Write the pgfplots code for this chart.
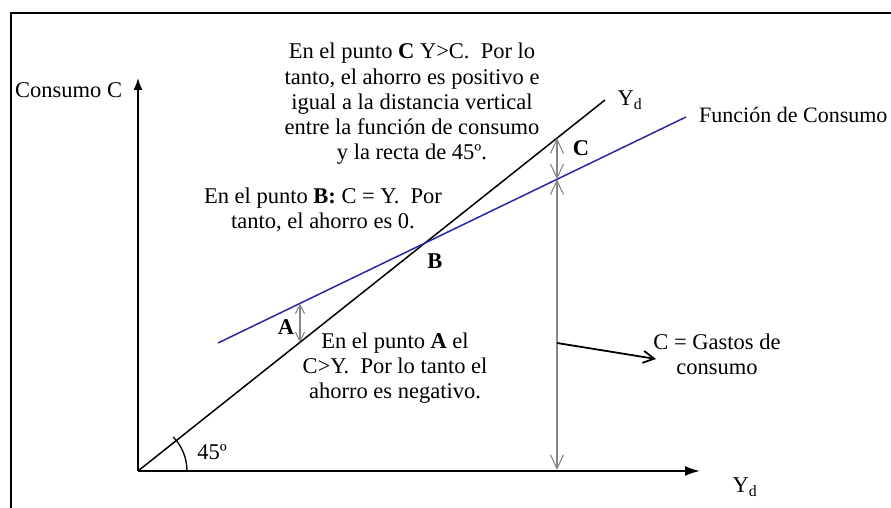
\documentclass[border=0pt]{standalone}
\usepackage{fontspec}
\setmainfont{Liberation Serif}
\usepackage{pgfplots}
\pgfplotsset{compat=1.18}
\usetikzlibrary{arrows.meta}
\definecolor{consblue}{RGB}{40,40,165}
\definecolor{arrgray}{RGB}{135,135,135}

\begin{document}
\begin{tikzpicture}[font=\fontsize{22.5}{25.3}\selectfont, every node/.style={inner sep=0pt}]
\begin{axis}[
    scale only axis,
    width=562pt, height=393pt,
    xmin=0, xmax=562, ymin=0, ymax=393,
    axis lines=left,
    ticks=none,
    x axis line style={line width=1.8pt, -{Latex[length=15pt,width=10pt]}},
    y axis line style={line width=1.8pt, -{Latex[length=12pt,width=9pt]}},
    clip=false,
]
% picture extent
\coordinate (bl) at (axis cs:-138,-37);
\coordinate (tr) at (axis cs:753,471);

% frame (cropped at right and bottom)
\draw[line width=2.5pt] (axis cs:-127,-60) -- (axis cs:-127,458) -- (axis cs:780,458);

% 45 degree line and consumption function
\addplot[black, line width=1.5pt] coordinates {(0,0) (467,371)};
\addplot[consblue, line width=1.5pt] coordinates {(80,128) (548,354)};

% distances
\addplot[arrgray, line width=1.1pt, {Straight Barb[length=14pt,width=13pt]}-{Straight Barb[length=14pt,width=13pt]}]
    coordinates {(419,291.7) (419,332.9)};
\addplot[arrgray, line width=1.1pt, {Straight Barb[length=14pt,width=13pt]}-{Straight Barb[length=14pt,width=13pt]}]
    coordinates {(419,291.7) (419,1)};
\addplot[arrgray, line width=1.1pt, {Straight Barb[length=9pt,width=9pt]}-{Straight Barb[length=9pt,width=9pt]}]
    coordinates {(162,128.7) (162,167.6)};
\addplot[black, line width=1.8pt, -{Straight Barb[length=11pt,width=12pt]}]
    coordinates {(419,128) (518,112)};

% 45 degree arc
\draw[line width=1.3pt] (axis cs:49,0) arc[start angle=0, end angle=44, radius=49pt];

% labels
\node[anchor=west] at (axis cs:-123,381) {Consumo C};
\node[align=center] at (axis cs:274,367) {En el punto \textbf{C} Y>C.\ \ Por lo\\ tanto, el ahorro es positivo e\\ igual a la distancia vertical\\ entre la función de consumo\\ y la recta de 45º.};
\node[align=center] at (axis cs:185,261) {En el punto \textbf{B:} C = Y.\ \ Por\\ tanto, el ahorro es 0.};
\node[align=center] at (axis cs:257,103) {En el punto \textbf{A} el\\ C>Y.\ \ Por lo tanto el\\ ahorro es negativo.};
\node[align=center] at (axis cs:579,117) {C = Gastos de\\ consumo};
\node[anchor=west, font=\fontsize{22}{25}\selectfont] at (axis cs:561,356) {Función de Consumo};
\node at (axis cs:492,371) {Y\textsubscript{d}};
\node at (axis cs:607,-16) {Y\textsubscript{d}};
\node at (axis cs:443,323) {\textbf{C}};
\node at (axis cs:297,210) {\textbf{B}};
\node at (axis cs:148,144) {\textbf{A}};
\node at (axis cs:74,19) {45º};
\end{axis}
\pgfresetboundingbox
\path[use as bounding box] (bl) rectangle (tr);
\end{tikzpicture}
\end{document}
